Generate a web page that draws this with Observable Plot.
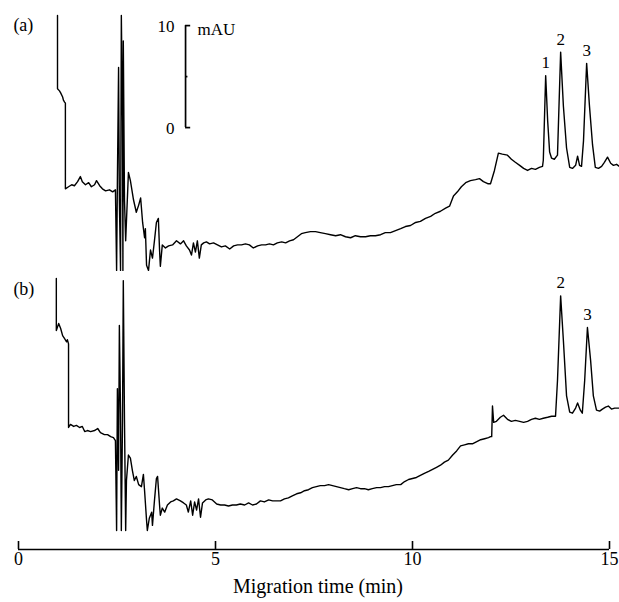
<!DOCTYPE html>
<html><head><meta charset="utf-8">
<script src="https://cdn.jsdelivr.net/npm/d3@7"></script>
<script src="https://cdn.jsdelivr.net/npm/@observablehq/plot@0.6"></script>
<style>body{margin:0;background:#fff}</style>
</head><body><div id="chart"></div>
<script>
// ---- Data (time in min, absorbance in mAU above panel floor) ----
const timesA = [0.99,0.99,1.04,1.07,1.12,1.14,1.17,1.19,1.19,1.27,1.35,1.42,1.50,1.57,1.62,1.70,1.78,1.85,1.93,1.98,2.06,2.13,2.21,2.31,2.39,2.46,2.49,2.51,2.54,2.56,2.59,2.61,2.64,2.65,2.66,2.69,2.72,2.79,2.84,2.92,2.99,3.05,3.10,3.15,3.20,3.22,3.25,3.30,3.35,3.40,3.45,3.50,3.55,3.58,3.60,3.65,3.73,3.81,3.91,4.01,4.11,4.19,4.26,4.34,4.39,4.44,4.49,4.54,4.59,4.64,4.70,4.77,4.85,4.95,5.05,5.15,5.25,5.36,5.46,5.56,5.66,5.76,5.86,5.96,6.07,6.17,6.27,6.37,6.47,6.57,6.68,6.78,6.88,6.98,7.08,7.18,7.28,7.41,7.54,7.66,7.79,7.92,8.05,8.17,8.30,8.43,8.55,8.68,8.81,8.93,9.06,9.19,9.31,9.44,9.57,9.70,9.82,9.95,10.08,10.20,10.33,10.46,10.58,10.71,10.84,10.94,11.04,11.14,11.24,11.35,11.47,11.60,11.70,11.80,11.91,11.98,12.08,12.18,12.28,12.41,12.51,12.61,12.72,12.82,12.92,13.02,13.12,13.22,13.30,13.32,13.38,13.43,13.48,13.53,13.60,13.68,13.76,13.83,13.91,13.99,14.06,14.14,14.19,14.24,14.29,14.34,14.42,14.49,14.57,14.64,14.72,14.80,14.87,14.95,15.03,15.10,15.18,15.25];
const signalA = [25.0,17.8,17.6,17.4,17.0,16.7,16.5,16.4,8.0,8.2,8.4,8.3,8.7,9.2,8.7,8.4,8.6,8.2,8.4,8.8,8.3,8.0,7.8,7.9,7.7,7.9,0,8.8,19.9,6.9,0,25,14.7,0,22.5,6.9,2.9,9.6,8.8,6.9,5.7,6.4,7.1,4.7,3.2,4.1,0.5,0,2.0,1.2,2.9,4.7,5.1,2.0,0.4,2.5,2.2,2.4,2.5,2.9,2.6,2.9,2.4,2.0,1.5,2.7,1.8,2.9,1.2,2.5,2.7,2.8,2.6,2.7,2.5,2.3,2.4,2.1,2.4,2.5,2.5,2.6,2.5,2.2,2.4,2.5,2.5,2.6,2.5,2.7,2.8,2.7,2.9,3.0,3.3,3.6,3.7,3.8,3.8,3.7,3.6,3.5,3.4,3.5,3.3,3.2,3.4,3.3,3.3,3.4,3.4,3.5,3.7,3.7,3.9,4.1,4.3,4.4,4.7,4.8,5.1,5.3,5.6,5.8,6.1,6.3,7.3,7.7,8.2,8.6,8.8,8.9,9.0,8.7,8.5,8.5,9.8,11.5,11.4,11.3,10.9,10.6,10.3,10.0,9.8,10.0,9.9,10.1,10.2,10.8,19.1,14.7,11.6,11.0,10.9,11.3,21.4,16.1,12.0,10.1,10.0,10.3,11.2,10.3,10.2,12.7,20.3,16.2,12.3,10.1,10.0,10.2,10.6,11.1,10.5,10.3,10.4,10.2];
const timesB = [0.96,0.96,1.02,1.07,1.12,1.17,1.22,1.24,1.27,1.27,1.32,1.40,1.47,1.55,1.62,1.68,1.75,1.83,1.93,2.01,2.08,2.18,2.26,2.34,2.41,2.46,2.49,2.51,2.54,2.56,2.59,2.61,2.64,2.66,2.69,2.72,2.74,2.79,2.84,2.89,2.94,2.99,3.05,3.12,3.17,3.20,3.25,3.27,3.32,3.38,3.40,3.45,3.50,3.53,3.58,3.60,3.65,3.71,3.78,3.86,3.93,4.01,4.11,4.19,4.26,4.31,4.37,4.42,4.47,4.52,4.57,4.62,4.67,4.75,4.82,4.92,5.03,5.13,5.23,5.33,5.43,5.53,5.63,5.74,5.84,5.94,6.04,6.14,6.24,6.35,6.45,6.55,6.65,6.75,6.85,6.95,7.06,7.16,7.26,7.36,7.46,7.56,7.66,7.77,7.87,7.97,8.07,8.17,8.27,8.38,8.48,8.58,8.68,8.78,8.88,8.98,9.09,9.19,9.29,9.39,9.49,9.59,9.70,9.80,9.90,10.00,10.10,10.20,10.30,10.41,10.51,10.61,10.71,10.81,10.91,11.02,11.12,11.22,11.32,11.42,11.52,11.62,11.73,11.83,11.93,11.98,12.01,12.03,12.06,12.13,12.23,12.31,12.41,12.51,12.61,12.72,12.82,12.92,13.02,13.12,13.22,13.32,13.43,13.53,13.63,13.68,13.76,13.83,13.91,13.99,14.06,14.14,14.19,14.26,14.31,14.37,14.44,14.52,14.59,14.67,14.75,14.82,14.90,14.97,15.05,15.13,15.25];
const signalB = [24.7,19.6,20.3,19.8,19.1,18.8,18.5,18.7,18.3,10.1,10.4,10.2,10.3,10.1,10.2,9.7,9.8,9.7,9.8,10.0,9.6,9.4,9.4,9.2,9.1,8.8,0,13.9,5.9,20.1,11.5,0,10.8,24.5,10.8,0,4.9,7.4,7.1,5.9,4.9,5.3,4.5,4.3,5.5,3.9,1.0,0,1.2,1.8,0.5,2.9,5.1,5.3,2.5,1.5,2.2,1.8,2.5,2.8,2.9,3.1,2.9,2.7,2.5,1.8,2.9,1.5,2.8,2.0,3.1,1.3,2.7,3.0,3.1,3.0,2.6,2.5,2.5,2.4,2.5,2.5,2.6,2.5,2.7,2.5,2.6,2.9,2.8,3.0,2.9,2.9,2.9,3.1,3.2,3.4,3.6,3.7,3.9,4.0,4.2,4.3,4.4,4.4,4.5,4.4,4.3,4.2,4.1,4.0,4.1,4.2,4.1,4.1,4.0,4.1,4.2,4.2,4.3,4.3,4.4,4.5,4.5,4.8,5.0,5.1,5.2,5.4,5.6,5.8,6.0,6.2,6.4,6.7,6.9,7.4,7.8,8.3,8.4,8.5,8.5,8.7,8.9,9.0,9.1,9.2,9.2,12.2,10.6,10.7,11.1,11.3,10.9,10.7,10.8,10.7,10.6,10.7,10.9,11.0,10.9,11.0,11.1,11.2,11.2,14.7,23.0,18.6,13.2,11.6,11.5,12.0,12.5,11.8,11.5,14.7,19.9,16.7,13.2,11.8,11.7,11.9,12.1,12.2,11.9,12.0,12.0];

const panelNames = ["(a)", "(b)"];
const peakNamesA = ["1", "2", "3"];
const peakTimesA = [13.38, 13.76, 14.42];
const peakNamesB = ["2", "3"];
const peakTimesB = [13.76, 14.44];
const xTicks = [0, 5, 10, 15];
const xLabel = "Migration time (min)";
const scaleBarValues = [0, 5, 10];
const scaleBarLabels = ["0", "", "10"];
const scaleBarUnit = "mAU";

// ---- layout constants ----
const OFFSET_A = 25.5;          // stacking offset of trace (a)
const BAR_X = 4.24, BAR_BASE = 14.0 + OFFSET_A;
const AXIS_Y = -1.86, TICK_TOP = -1.08;

const rowsA = timesA.map((t, i) => ({t, v: signalA[i] + OFFSET_A}));
const rowsB = timesB.map((t, i) => ({t, v: signalB[i]}));
const peaks = [
  ...peakNamesA.map((n, i) => ({n, t: peakTimesA[i], v: signalA[timesA.indexOf(peakTimesA[i])] + OFFSET_A})),
  ...peakNamesB.map((n, i) => ({n, t: peakTimesB[i], v: signalB[timesB.indexOf(peakTimesB[i])]}))
];
const panelRows = [{name: panelNames[0], y: 49.5}, {name: panelNames[1], y: 23.7}];

const chart = Plot.plot({
  width: 619, height: 602,
  marginTop: 0, marginBottom: 53, marginLeft: 18, marginRight: 10,
  style: {fontFamily: "'Liberation Serif', 'Times New Roman', serif", background: "#fff", color: "#000"},
  x: {domain: [0, 15], range: [18, 609], axis: null},
  y: {domain: [0, 50], range: [530, 20], axis: null},
  marks: [
    Plot.line(rowsA, {x: "t", y: "v", stroke: "#000", strokeWidth: 1.4}),
    Plot.line(rowsB, {x: "t", y: "v", stroke: "#000", strokeWidth: 1.4}),
    // scale bar
    Plot.ruleX([BAR_X], {y1: BAR_BASE, y2: BAR_BASE + 10, stroke: "#000", strokeWidth: 1.7}),
    Plot.ruleY(scaleBarValues, {y: d => BAR_BASE + d, x1: BAR_X, x2: d => d === 5 ? BAR_X + 0.06 : BAR_X + 0.13, stroke: "#000", strokeWidth: 1.7}),
    Plot.text(scaleBarValues, {x: BAR_X, y: d => BAR_BASE + d, text: (d, i) => scaleBarLabels[i], dx: -11, dy: 1, textAnchor: "end", fontSize: 17, fill: "#000"}),
    Plot.text([scaleBarUnit], {x: BAR_X, y: BAR_BASE + 10, dx: 12, dy: 4, textAnchor: "start", fontSize: 17, fill: "#000"}),
    // panel labels
    Plot.text(panelRows, {x: -0.13, y: "y", text: "name", textAnchor: "start", fontSize: 18, fill: "#000"}),
    // peak labels
    Plot.text(peaks, {x: "t", y: "v", text: "n", dy: -13, fontSize: 17, fill: "#000"}),
    // x axis
    Plot.ruleY([AXIS_Y], {x1: 0, x2: 15, stroke: "#000", strokeWidth: 1.6}),
    Plot.ruleX(xTicks, {y1: AXIS_Y, y2: TICK_TOP, stroke: "#000", strokeWidth: 1.6}),
    Plot.text(xTicks, {x: d => d, frameAnchor: "bottom", dy: 15, text: d => String(d), fontSize: 18, fill: "#000"}),
    Plot.text([xLabel], {frameAnchor: "bottom", dy: 43, dx: 4, fontSize: 20, fill: "#000"})
  ]
});
document.getElementById("chart").append(chart);
</script>
</body></html>
